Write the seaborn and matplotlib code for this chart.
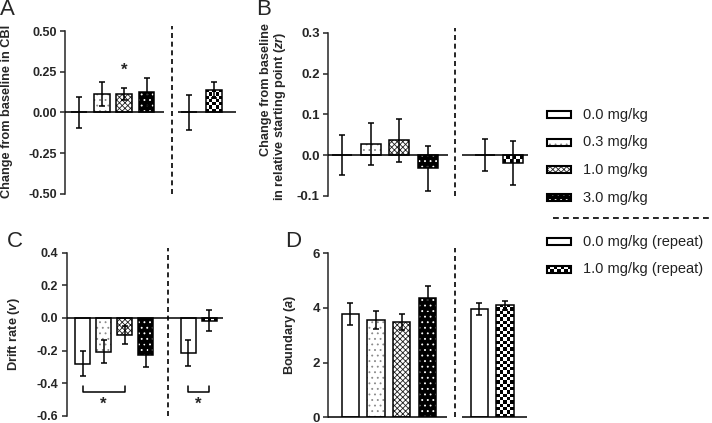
import numpy as np
import pandas as pd
import matplotlib
matplotlib.use('Agg')
import matplotlib.pyplot as plt
from matplotlib.patches import Rectangle
import seaborn as sns

# DADOS #
doses = ['0.0 mg/kg', '0.3 mg/kg', '1.0 mg/kg', '3.0 mg/kg',
         '0.0 mg/kg (repeat)', '1.0 mg/kg (repeat)']

cbi_mean = [0.0, 0.115, 0.115, 0.125, 0.0, 0.137]
cbi_sem = [0.095, 0.075, 0.038, 0.085, 0.108, 0.050]

zr_mean = [0.0, 0.028, 0.036, -0.032, 0.0, -0.020]
zr_sem = [0.049, 0.052, 0.053, 0.055, 0.039, 0.054]

v_mean = [-0.280, -0.207, -0.105, -0.230, -0.215, -0.018]
v_sem = [0.077, 0.070, 0.053, 0.073, 0.078, 0.065]

a_mean = [3.78, 3.56, 3.48, 4.35, 3.97, 4.10]
a_sem = [0.39, 0.33, 0.29, 0.44, 0.23, 0.17]

# ESTILO #
sns.set_style('ticks')
plt.rcParams['font.family'] = ['Liberation Sans', 'DejaVu Sans']
plt.rcParams['mathtext.fontset'] = 'custom'
plt.rcParams['mathtext.it'] = 'Liberation Sans:italic:bold'
plt.rcParams['mathtext.rm'] = 'Liberation Sans:bold'
plt.rcParams['hatch.linewidth'] = 0.6

face = ['white', 'white', 'white', 'black', 'white', 'white']
hatch = [None, '...', 'xxxxxx', '...', None, 'checker']
hatch_col = ['black', '#8a8a8a', '#202020', 'white', 'black', 'black']

W, H = 712, 423
fig = plt.figure(figsize=(W / 100, H / 100), dpi=100)


def px(x0, y0, w, h):
    # retangulo em pixels -> fracao da figura
    return [x0 / W, 1 - (y0 + h) / H, w / W, h / H]


def checker(ax, patch, cell=3.3):
    x, y = patch.get_xy()
    w, h = patch.get_width(), patch.get_height()
    p = ax.transData.transform([[x, y], [x + w, y + h]])
    cols = max(1, int(round(abs(p[1, 0] - p[0, 0]) / cell)))
    rows = max(1, int(round(abs(p[1, 1] - p[0, 1]) / cell)))
    arr = np.indices((rows, cols)).sum(axis=0) % 2
    xl, yl = ax.get_xlim(), ax.get_ylim()
    im = ax.imshow(arr, cmap='gray', extent=[x, x + w, min(y, y + h), max(y, y + h)],
                   origin='lower', aspect='auto', interpolation='nearest',
                   zorder=patch.get_zorder() + 0.1)
    im.set_clip_path(patch)
    ax.set_xlim(xl)
    ax.set_ylim(yl)


def paint(ax, patch, k, lw=1.1):
    patch.set_facecolor(face[k])
    patch.set_linewidth(0)
    if hatch[k] == 'checker':
        checker(ax, patch)
    elif hatch[k]:
        patch.set_edgecolor(hatch_col[k])
        patch.set_hatch(hatch[k])
    ax.add_patch(Rectangle(patch.get_xy(), patch.get_width(), patch.get_height(),
                           fill=False, ec='black', lw=lw, zorder=patch.get_zorder() + 0.3))


def painel(rect, mean, sem, pos, xlim, ylim, ticks, fmt, tsize, width, segs, div):
    ax = fig.add_axes(rect)
    df = pd.DataFrame({'pos': pos, 'val': mean, 'dose': doses})
    sns.barplot(data=df, x='pos', y='val', native_scale=True, orient='x',
                width=width, color='white', errorbar=None, ax=ax)
    ax.set_xlim(xlim)
    ax.set_ylim(ylim)
    for k, p in enumerate(list(ax.patches)):
        paint(ax, p, k)
    ax.errorbar(pos, mean, yerr=sem, fmt='none', ecolor='black',
                elinewidth=1.1, capsize=2.2, capthick=1.1, zorder=5)
    for a, b in segs:
        ax.hlines(0, a, b, color='black', lw=1.1, zorder=6, clip_on=False)
    ax.axvline(div, ymin=0, ymax=1.03, color='black', lw=1.2,
               ls=(0, (3, 2.2)), clip_on=False)
    for s in ['top', 'right', 'bottom']:
        ax.spines[s].set_visible(False)
    ax.spines['left'].set_linewidth(1.1)
    ax.set_xticks([])
    ax.set_xlabel('')
    ax.set_ylabel('')
    ax.set_yticks(ticks)
    ax.set_yticklabels([fmt.format(t) for t in ticks], fontsize=tsize, fontweight='bold')
    ax.tick_params(axis='y', length=3.5, width=1.1, pad=2.5)
    return ax


# A - CBI
axA = painel(px(65, 31, 171.1, 163), cbi_mean, cbi_sem, [0, 1, 2, 3, 4.9, 6.0],
             (-0.64, 7.0), (-0.5, 0.5), [-0.5, -0.25, 0, 0.25, 0.5], '{:.2f}', 9,
             0.71, [(-0.64, 3.8), (4.42, 7.0)], 4.15)
axA.text(2, 0.26, '*', ha='center', va='center', fontsize=12, fontweight='bold')

# B - zr
axB = painel(px(328, 32.7, 199.5, 163.3), zr_mean, zr_sem, [0, 1, 2, 3, 5, 6],
             (-0.5, 6.5), (-0.1, 0.3), [-0.1, 0, 0.1, 0.2, 0.3], '{:.1f}', 9.5,
             0.69, [(-0.5, 3.7), (4.2, 6.5)], 3.95)

# C - drift rate
axC = painel(px(66.7, 252.7, 156.4, 163), v_mean, v_sem, [0, 1, 2, 3, 5, 6],
             (-0.75, 6.66), (-0.6, 0.4), [-0.6, -0.4, -0.2, 0, 0.2, 0.4], '{:.1f}', 9,
             0.71, [(-0.75, 6.66)], 4.04)
for a, b in [(0, 2), (5, 6)]:
    axC.plot([a, a, b, b], [-0.415, -0.456, -0.456, -0.415], color='black', lw=1.1)
    axC.text((a + b) / 2, -0.532, '*', ha='center', va='center', fontsize=12, fontweight='bold')

# D - boundary
axD = painel(px(328.3, 253.3, 198.7, 164), a_mean, a_sem, [0, 1, 2, 3, 5, 6],
             (-0.85, 6.85), (0, 6), [0, 2, 4, 6], '{:.0f}', 9.5,
             0.67, [(-0.85, 3.76), (4.32, 6.85)], 4.06)

# rotulos dos eixos
fig.text(7.5 / W, 1 - 111.5 / H, 'Change from baseline in CBI', rotation=90,
         ha='center', va='center', fontsize=9.2, fontweight='bold')
fig.text(265.5 / W, 1 - 23 / H, 'Change from baseline', rotation=90,
         ha='center', va='top', fontsize=9.2, fontweight='bold')
fig.text(279.5 / W, 1 - 32 / H, r'in relative starting point ($zr$)', rotation=90,
         ha='center', va='top', fontsize=9.2, fontweight='bold')
fig.text(14 / W, 1 - 334 / H, r'Drift rate ($v$)', rotation=90,
         ha='center', va='center', fontsize=9.2, fontweight='bold')
fig.text(290.5 / W, 1 - 335 / H, r'Boundary ($a$)', rotation=90,
         ha='center', va='center', fontsize=9.2, fontweight='bold')

# letras dos paineis
for lab, x, y in [('A', 0, 15), ('B', 256, 15), ('C', 7, 247), ('D', 285, 247)]:
    fig.text(x / W, 1 - y / H, lab, fontsize=16, va='baseline', ha='left')

# LEGENDA #
axL = fig.add_axes([0, 0, 1, 1])
axL.set_xlim(0, W)
axL.set_ylim(H, 0)
axL.axis('off')
rows = [115, 142.3, 170, 197.7, 241.7, 269.3]
for k, y in enumerate(rows):
    r = Rectangle((546.7, y - 3.5), 24, 7)
    axL.add_patch(r)
    paint(axL, r, k, lw=1.5)
    axL.text(582.7, y, doses[k], va='center', ha='left', fontsize=10.5, color='#222222')
axL.plot([552.7, 712], [218.3, 218.3], color='black', lw=1.2, ls=(0, (3.5, 2.5)))

fig.savefig('out.png', dpi=100)
